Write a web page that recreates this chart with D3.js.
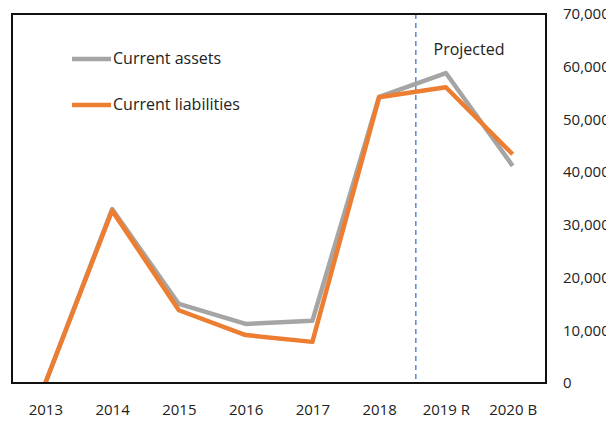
<!DOCTYPE html>
<html><head><meta charset="utf-8">
<script src="https://cdn.jsdelivr.net/npm/d3@7"></script>
<style>
html,body{margin:0;padding:0;background:#fff;overflow:hidden;}
svg{display:block;}
text{font-family:"Liberation Sans Narrow","Open Sans",sans-serif;fill:#222;}
</style></head>
<body>
<svg id="c" width="606" height="425"></svg>
<script>
const categories = ["2013","2014","2015","2016","2017","2018","2019 R","2020 B"];
const currentAssets = [0, 33000, 15000, 11200, 11800, 54300, 58800, 41200];
const currentLiabilities = [0, 32700, 13800, 9100, 7800, 54200, 56100, 43400];
const yTicks = [0, 10000, 20000, 30000, 40000, 50000, 60000, 70000];
const seriesNames = ["Current assets", "Current liabilities"];
const seriesColors = ["#A5A5A5", "#ED7D31"];

const svg = d3.select("#c");
const L = 12, R = 546, T = 14, B = 383;

const x = d3.scalePoint().domain(categories).range([L, R]).padding(0.5);
const y = d3.scaleLinear().domain([0, 70000]).range([B, T]);

// right axis
const yAxis = d3.axisRight(y).tickValues(yTicks).tickSize(0).tickPadding(17)
  .tickFormat(d => d3.format(",")(d));
const ga = svg.append("g").attr("transform", `translate(${R},0)`).call(yAxis);
ga.select(".domain").remove();
ga.selectAll("text").attr("font-size", 15).attr("fill", "#222")
  .style("font-family", "'Liberation Sans Narrow','Open Sans',sans-serif");

// x axis labels
const xAxis = d3.axisBottom(x).tickSize(0).tickPadding(21);
const gx = svg.append("g").attr("transform", `translate(0,${B})`).call(xAxis);
gx.select(".domain").remove();
gx.selectAll("text").attr("font-size", 15).attr("fill", "#222")
  .style("font-family", "'Liberation Sans Narrow','Open Sans',sans-serif");

// projected divider
const divX = x("2018") + 0.55 * x.step();
svg.append("line").attr("x1", divX).attr("x2", divX).attr("y1", T).attr("y2", B)
  .attr("stroke", "#4472C4").attr("stroke-width", 1.3).attr("stroke-dasharray", "5,4");
svg.append("text").attr("x", 469).attr("y", 55).attr("text-anchor", "middle")
  .attr("font-size", 16).text("Projected");

// lines
const line = d3.line().x((d, i) => x(categories[i])).y(d => y(d));
[currentAssets, currentLiabilities].forEach((s, k) => {
  svg.append("path").datum(s).attr("d", line).attr("fill", "none")
    .attr("stroke", seriesColors[k]).attr("stroke-width", 4.5)
    .attr("stroke-linejoin", "round");
});

// frame
svg.append("rect").attr("x", L).attr("y", T).attr("width", R - L).attr("height", B - T)
  .attr("fill", "none").attr("stroke", "#111").attr("stroke-width", 2);

// legend
const legY = [59, 105];
seriesNames.forEach((n, k) => {
  svg.append("line").attr("x1", 72).attr("x2", 111).attr("y1", legY[k]).attr("y2", legY[k])
    .attr("stroke", seriesColors[k]).attr("stroke-width", 4.5);
  svg.append("text").attr("x", 113).attr("y", legY[k] + 5).attr("font-size", 16).text(n);
});
</script>
</body></html>
